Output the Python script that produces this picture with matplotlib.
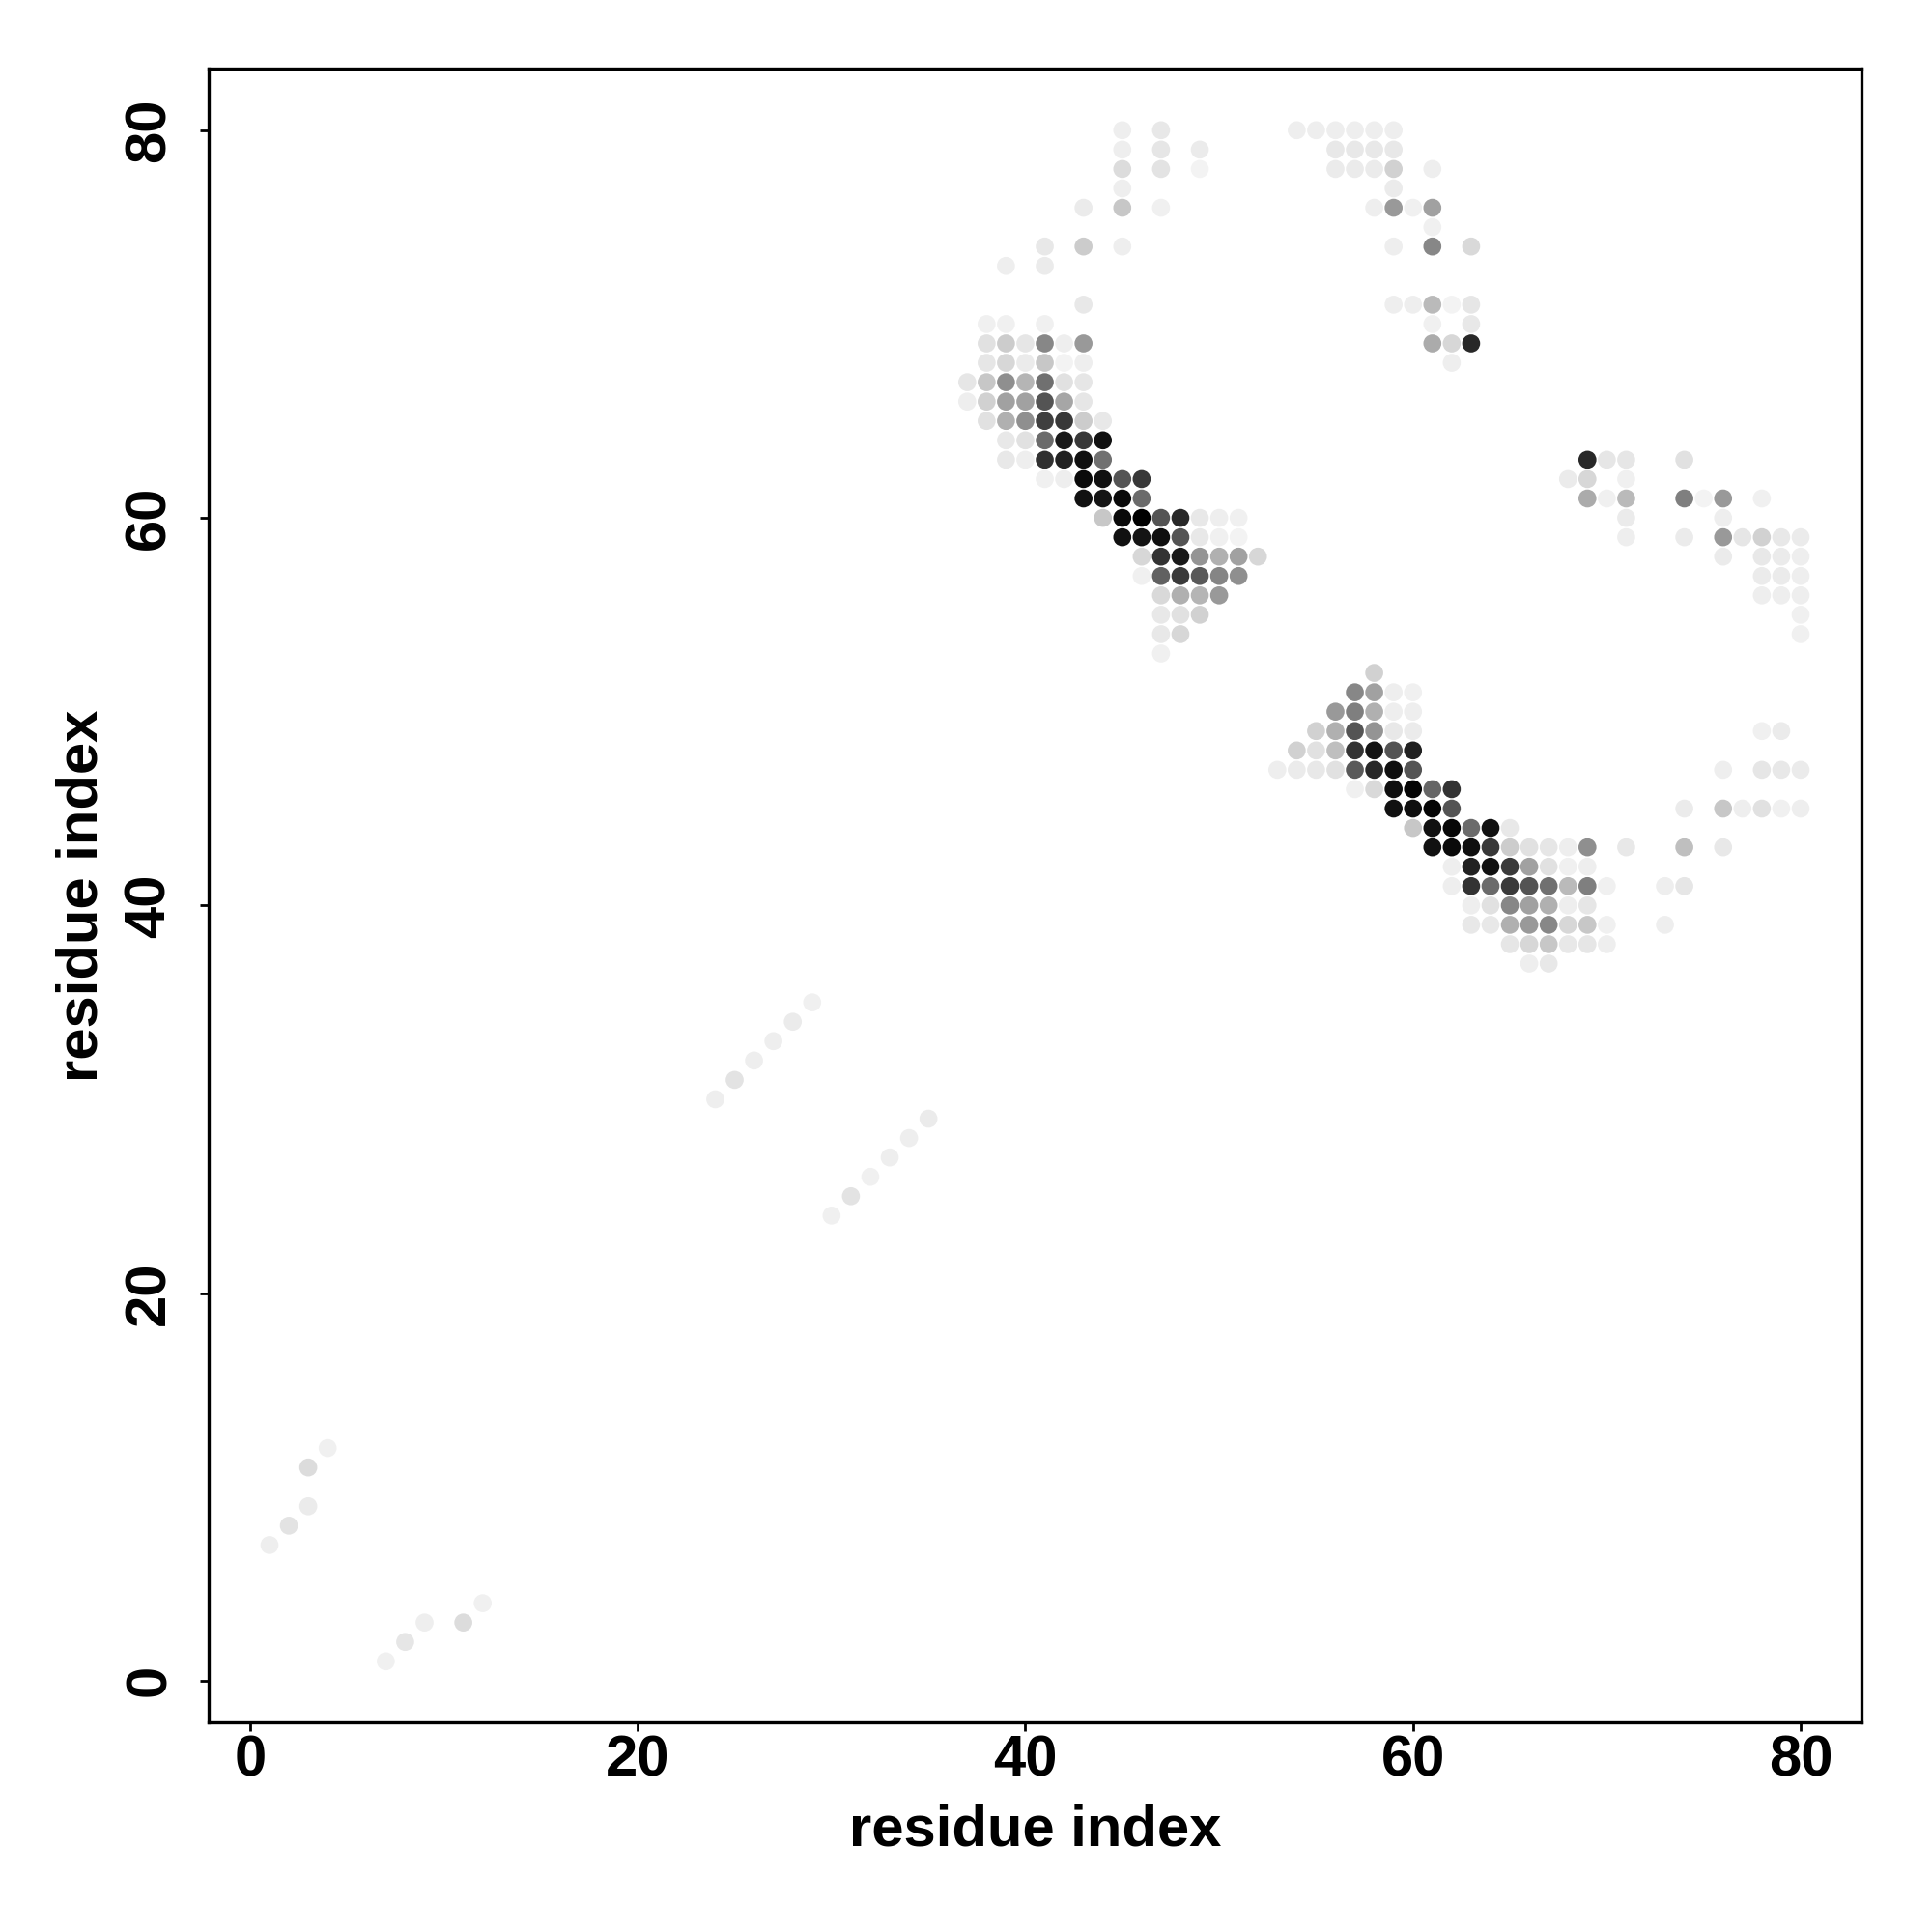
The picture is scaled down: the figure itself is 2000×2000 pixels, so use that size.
import matplotlib
matplotlib.use('Agg')
import matplotlib.pyplot as plt

plt.rcParams['font.family'] = ['Liberation Sans', 'DejaVu Sans']
plt.rcParams['font.weight'] = 'bold'

# contact map: residue i (x), residue j (y), contact probability (darkness)
res_x = [
    45, 47, 54, 55, 56, 57, 58, 59,                     # y=80
    45, 47, 49, 56, 57, 58, 59,                         # y=79
    45, 47, 49, 56, 57, 58, 59, 61,                     # y=78
    45, 59,                                             # y=77
    43, 45, 47, 58, 59, 60, 61,                         # y=76
    61,                                                 # y=75
    41, 43, 45, 59, 61, 63,                             # y=74
    39, 41,                                             # y=73
    43, 59, 60, 61, 62, 63,                             # y=71
    38, 39, 41, 61, 63,                                 # y=70
    38, 39, 40, 41, 42, 43, 61, 62, 63,                 # y=69
    38, 39, 40, 41, 42, 43, 62,                         # y=68
    37, 38, 39, 40, 41, 42, 43,                         # y=67
    37, 38, 39, 40, 41, 42, 43,                         # y=66
    38, 39, 40, 41, 42, 43, 44,                         # y=65
    39, 40, 41, 42, 43, 44,                             # y=64
    39, 40, 41, 42, 43, 44, 69, 70, 71, 74,             # y=63
    41, 42, 43, 44, 45, 46, 68, 69, 71,                 # y=62
    43, 44, 45, 46, 69, 70, 71, 74, 75, 76, 78,         # y=61
    44, 45, 46, 47, 48, 49, 50, 51, 71, 76,             # y=60
    45, 46, 47, 48, 49, 50, 51, 71, 74, 76, 77, 78, 79, 80,  # y=59
    46, 47, 48, 49, 50, 51, 52, 76, 78, 79, 80,         # y=58
    46, 47, 48, 49, 50, 51, 78, 79, 80,                 # y=57
    47, 48, 49, 50, 78, 79, 80,                         # y=56
    47, 48, 49, 80,                                     # y=55
    47, 48, 80,                                         # y=54
    47,                                                 # y=53
    58,                                                 # y=52
    57, 58, 59, 60,                                     # y=51
    56, 57, 58, 59, 60,                                 # y=50
    55, 56, 57, 58, 59, 60, 78, 79,                     # y=49
    54, 55, 56, 57, 58, 59, 60,                         # y=48
    53, 54, 55, 56, 57, 58, 59, 60, 76, 78, 79, 80,     # y=47
    57, 58, 59, 60, 61, 62,                             # y=46
    59, 60, 61, 62, 74, 76, 77, 78, 79, 80,             # y=45
    60, 61, 62, 63, 64, 65,                             # y=44
    61, 62, 63, 64, 65, 66, 67, 68, 69, 71, 74, 76,     # y=43
    62, 63, 64, 65, 66, 67, 68, 69,                     # y=42
    62, 63, 64, 65, 66, 67, 68, 69, 70, 73, 74,         # y=41
    63, 64, 65, 66, 67, 68, 69,                         # y=40
    63, 64, 65, 66, 67, 68, 69, 70, 73,                 # y=39
    65, 66, 67, 68, 69, 70,                             # y=38
    66, 67,                                             # y=37
    29, 28, 27, 26, 25, 24,                             # y=35..30
    35, 34, 33, 32, 31, 30,                             # y=29..24
    4, 3, 3, 2, 1,                                      # y=12..7
    12, 9, 11, 8, 7,                                    # y=4..1
]

res_y = (
    [80] * 8 + [79] * 7 + [78] * 8 + [77] * 2 + [76] * 7 + [75] * 1
    + [74] * 6 + [73] * 2 + [71] * 6 + [70] * 5 + [69] * 9 + [68] * 7
    + [67] * 7 + [66] * 7 + [65] * 7 + [64] * 6 + [63] * 10 + [62] * 9
    + [61] * 11 + [60] * 10 + [59] * 14 + [58] * 11 + [57] * 9 + [56] * 7
    + [55] * 4 + [54] * 3 + [53] * 1 + [52] * 1 + [51] * 4 + [50] * 5
    + [49] * 8 + [48] * 7 + [47] * 12 + [46] * 6 + [45] * 10 + [44] * 6
    + [43] * 12 + [42] * 8 + [41] * 11 + [40] * 7 + [39] * 9 + [38] * 6
    + [37] * 2
    + [35, 34, 33, 32, 31, 30]
    + [29, 28, 27, 26, 25, 24]
    + [12, 11, 9, 8, 7]
    + [4, 3, 3, 2, 1]
)

prob = [
    .07, .09, .07, .07, .07, .07, .07, .07,
    .07, .10, .08, .09, .09, .09, .09,
    .14, .11, .05, .08, .08, .08, .18, .07,
    .07, .08,
    .08, .22, .06, .07, .40, .06, .37,
    .06,
    .09, .20, .07, .07, .47, .15,
    .07, .08,
    .09, .07, .07, .27, .05, .10,
    .06, .06, .06, .06, .09,
    .12, .20, .10, .47, .07, .40, .33, .16, .84,
    .10, .16, .08, .22, .05, .07, .07,
    .10, .22, .44, .29, .56, .12, .10,
    .07, .18, .37, .37, .67, .35, .10,
    .12, .31, .44, .75, .78, .20, .09,
    .09, .12, .58, .90, .78, .93,
    .09, .07, .81, .87, .94, .56, .84, .10, .10, .12,
    .06, .07, .96, .93, .67, .78, .08, .16, .06,
    .93, .92, .96, .58, .33, .06, .27, .50, .05, .40, .06,
    .22, .96, 1.0, .67, .84, .09, .07, .06, .08, .07,
    .93, .92, .94, .67, .09, .06, .05, .07, .08, .40, .10, .18, .09, .08,
    .16, .80, .90, .42, .31, .37, .16, .08, .09, .08, .07,
    .06, .62, .77, .65, .48, .44, .08, .08, .07,
    .15, .31, .29, .40, .07, .07, .07,
    .09, .12, .18, .06,
    .09, .16, .06,
    .06,
    .18,
    .47, .37, .07, .06,
    .40, .50, .31, .07, .07,
    .18, .31, .67, .42, .09, .08, .06, .08,
    .18, .12, .25, .80, .92, .67, .87,
    .07, .08, .09, .12, .65, .84, .94, .67, .07, .10, .09, .08,
    .06, .15, .94, .98, .60, .80,
    .93, .94, .98, .67, .08, .22, .07, .12, .06, .07,
    .22, .93, .97, .58, .93, .09,
    .93, .96, .94, .78, .20, .12, .10, .07, .44, .09, .25, .09,
    .07, .87, .93, .77, .37, .12, .06, .07,
    .07, .80, .58, .77, .67, .56, .27, .50, .06, .07, .10,
    .07, .12, .47, .37, .31, .07, .10,
    .09, .09, .31, .40, .47, .16, .22, .06, .07,
    .10, .16, .22, .09, .10, .07,
    .07, .09,
    .06, .08, .07, .07, .11, .07,
    .08, .07, .07, .06, .11, .06,
    .06, .14, .08, .11, .07,
    .06, .07, .14, .10, .06,
]

tick_vals = [0, 20, 40, 60, 80]

fig = plt.figure(figsize=(10, 10), dpi=200)
ax = fig.add_axes([0.1078, 0.1084, 0.8559, 0.8559])

ax.scatter(res_x, res_y, c=prob, cmap='gray_r', vmin=0, vmax=1,
           s=45, linewidths=0, marker='o')

ax.set_xlim(-2.16, 83.16)
ax.set_ylim(-2.16, 83.16)

ax.set_xticks(tick_vals, [str(t) for t in tick_vals])
ax.set_yticks(tick_vals, [str(t) for t in tick_vals], rotation=90, va='center')
ax.tick_params(axis='both', direction='out', length=3.2, width=1.0,
               labelsize=21.5, color='black')
ax.tick_params(axis='x', pad=1.1)
ax.tick_params(axis='y', pad=8.6)

for sp in ax.spines.values():
    sp.set_linewidth(1.2)
    sp.set_color('black')

ax.set_xlabel('residue index', fontsize=21.5, fontweight='bold')
ax.set_ylabel('residue index', fontsize=21.5, fontweight='bold')
ax.xaxis.set_label_coords(0.5, -0.0491)
ax.yaxis.set_label_coords(-0.0605, 0.5)

fig.savefig('out.png', dpi=200)
